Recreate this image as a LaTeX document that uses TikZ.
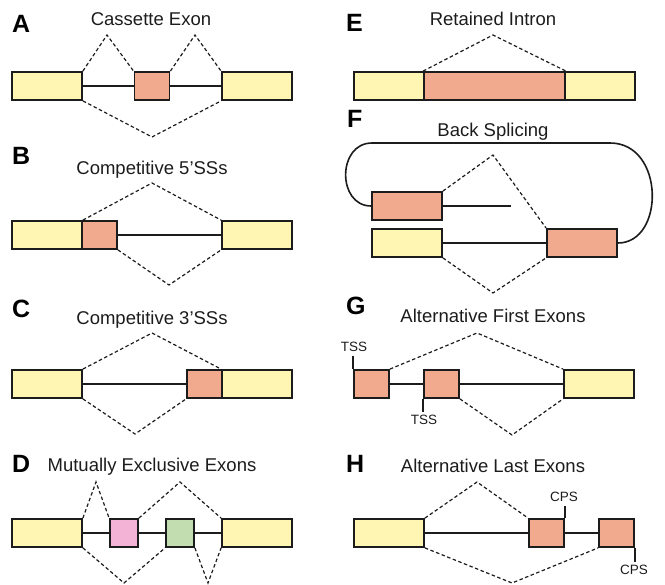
\documentclass[tikz,border=0pt]{standalone}
\usepackage{fontspec}
\setmainfont{Liberation Sans}
\usetikzlibrary{arrows}
\definecolor{exonyellow}{HTML}{FFF6B3}
\definecolor{exonorange}{HTML}{F2AA8F}
\definecolor{exonpink}{HTML}{F3B3D6}
\definecolor{exongreen}{HTML}{C2DEB0}
\definecolor{ink}{HTML}{1C1C1C}
\tikzstyle{exon}=[draw=ink,line width=1.8pt,minimum height=28pt,inner sep=0pt]
\tikzstyle{constexon}=[exon,fill=exonyellow,minimum width=70pt]
\tikzstyle{altexon}=[exon,fill=exonorange,minimum width=35pt]
\tikzstyle{intron}=[draw=ink,line width=1.6pt]
\tikzstyle{splice}=[draw=ink,line width=1.2pt,dash pattern=on 3.5pt off 2.5pt]
\tikzstyle{title}=[font=\fontsize{18.5}{20}\selectfont,text=ink,anchor=base]
\tikzstyle{panel}=[font=\fontsize{25}{26}\selectfont\bfseries,text=black,anchor=base west,inner sep=0pt]
\tikzstyle{site}=[font=\fontsize{13.5}{15}\selectfont,text=ink,anchor=base]

\begin{document}
\begin{tikzpicture}[x=1pt,y=-1pt]
				\useasboundingbox (0,0) rectangle (665,585);

				% Panel letters and titles
				\foreach \pos/\name/\txt in {{(12,33)/lA/A}, {(12,165)/lB/B}, {(12,318)/lC/C}, {(12,473)/lD/D},
						{(346,32)/lE/E}, {(347,128)/lF/F}, {(346,315)/lG/G}, {(346,473)/lH/H}}
				\node[panel] (\name) at \pos {\txt};
				\foreach \pos/\name/\txt in {{(151,26)/tA/Cassette Exon}, {(152,175)/tB/Competitive 5'SSs},
						{(152,325)/tC/Competitive 3'SSs}, {(152,472)/tD/Mutually Exclusive Exons},
						{(493,26)/tE/Retained Intron}, {(493,137)/tF/Back Splicing},
						{(493,323)/tG/Alternative First Exons}, {(493,473)/tH/Alternative Last Exons}}
				\node[title] (\name) at \pos {\txt};

				% Constitutive exons
				\foreach \pos/\name in {{(47,86)/a1}, {(257,86)/a3}, {(47,235)/b1}, {(257,235)/b3},
						{(47,384)/c1}, {(257,384)/c3}, {(47,533)/d1}, {(257,533)/d4},
						{(389,86)/e1}, {(600,86)/e3}, {(407,243)/f2}, {(599,384)/g3}, {(389,533)/h1}}
				\node[constexon] (\name) at \pos {};

				% Alternative exons
				\foreach \pos/\name in {{(152,86)/a2}, {(99.5,235)/b2}, {(204.5,384)/c2},
						{(371.5,384)/g1}, {(441.5,384)/g2}, {(546.5,533)/h2}, {(616.5,533)/h3}}
				\node[altexon] (\name) at \pos {};
				\node[altexon,minimum width=141pt] (e2) at (494.5,86) {};
				\node[altexon,minimum width=70pt] (f1) at (407,206) {};
				\node[altexon,minimum width=70pt] (f3) at (582,243) {};
				\node[exon,fill=exonpink,minimum width=28pt] (d2) at (124,533) {};
				\node[exon,fill=exongreen,minimum width=28pt] (d3) at (180,533) {};

				% Introns
				\foreach \source/\dest in {a1/a2, a2/a3, b2/b3, c1/c2, d1/d2, d2/d3, d3/d4,
						f2/f3, g1/g2, g2/g3, h1/h2, h2/h3}
				\path[intron] (\source) -- (\dest);
				\coordinate (fend) at (511,206);
				\path[intron] (f1) -- (fend);

				% Back-splice loop
				\path[intron] (f1.west) .. controls (337,206) and (337,143) .. (372,143) -- (610,143)
						.. controls (665,143) and (665,243) .. (f3.east);

				% Splice junctions
				\foreach \pos/\name in {{(107,35)/pA1}, {(195,35)/pA2}, {(152,137)/pA3},
						{(152,183)/pB1}, {(169,285)/pB2}, {(152,333)/pC1}, {(135,434)/pC2},
						{(96,482)/pD1}, {(180,482)/pD2}, {(124,583)/pD3}, {(208,583)/pD4},
						{(493,35)/pE1}, {(493,155)/pF1}, {(493,293)/pF2},
						{(477,333)/pG1}, {(512,435)/pG2}, {(477,482)/pH1}, {(512,583)/pH2}}
				\node[coordinate] (\name) at \pos {};
				% above the exons
				\foreach \from/\peak/\to in {a1/pA1/a2, a2/pA2/a3, b1/pB1/b3, c1/pC1/c3,
						d1/pD1/d2, d2/pD2/d4, f1/pF1/f3, g1/pG1/g3, h1/pH1/h2}
				\path[splice] (\from.north east) -- (\peak) -- (\to.north west);
				\path[splice] (e2.north west) -- (pE1) -- (e2.north east);
				% below the exons
				\foreach \from/\peak/\to in {a1/pA3/a3, b2/pB2/b3, c1/pC2/c2, d1/pD3/d3,
						d3/pD4/d4, f2/pF2/f3, g2/pG2/g3, h1/pH2/h3}
				\path[splice] (\from.south east) -- (\peak) -- (\to.south west);

				% TSS and CPS marks
				\node[site] (tss1) at (354,352) {TSS};
				\node[site] (tss2) at (424,425) {TSS};
				\node[site] (cps1) at (564,502) {CPS};
				\node[site] (cps2) at (634,575) {CPS};
				\path[intron] (g1.north west) -- (g1.north west |- tss1.south);
				\path[intron] (g2.south west) -- (g2.south west |- tss2.north);
				\path[intron] (h2.north east) -- (h2.north east |- cps1.south);
				\path[intron] (h3.south east) -- (h3.south east |- cps2.north);
\end{tikzpicture}
\end{document}
